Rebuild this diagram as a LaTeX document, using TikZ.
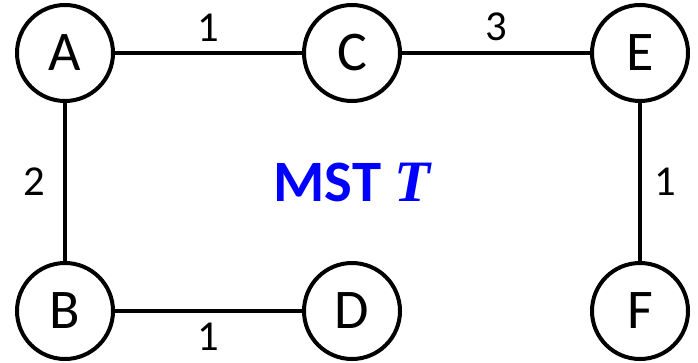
\documentclass[tikz,border=0pt]{standalone}
\usepackage{fontspec}
\setmainfont{Carlito}
\newfontfamily\mathserif{Liberation Serif}
\usepackage{tikz}
\usetikzlibrary{positioning}
\definecolor{colMST}{RGB}{0,0,255}

\begin{document}
\begin{tikzpicture}[x=0.75pt, y=-0.75pt,
    vertex/.style={draw, circle, line width=3pt, minimum size=72pt, inner sep=0pt, font=\fontsize{42}{42}\selectfont},
    wedge/.style={line width=3pt},
    weight/.style={font=\fontsize{32}{32}\selectfont}]
      \useasboundingbox (0,0) rectangle (698,363);
      % --- vertices ---
      \node[vertex] (A) at (65,53) {A};
      \node[vertex] (C) at (352,53) {C};
      \node[vertex] (E) at (640,53) {E};
      \node[vertex] (B) at (65,311) {B};
      \node[vertex] (D) at (352,311) {D};
      \node[vertex] (F) at (640,311) {F};
      % --- tree edges with weights ---
      \draw[wedge] (A) -- (C) node[midway, weight, above=4pt] {1};
      \draw[wedge] (C) -- (E) node[midway, weight, above=4pt] {3};
      \draw[wedge] (A) -- (B) node[midway, weight, left=10pt] {2};
      \draw[wedge] (E) -- (F) node[midway, weight, right=6pt] {1};
      \draw[wedge] (B) -- (D) node[midway, weight, below=4pt] {1};
      % --- title ---
      \node[colMST, font=\fontsize{44}{44}\selectfont\bfseries] (title) at (352,182) {MST {\mathserif\itshape T}};
\end{tikzpicture}
\end{document}
